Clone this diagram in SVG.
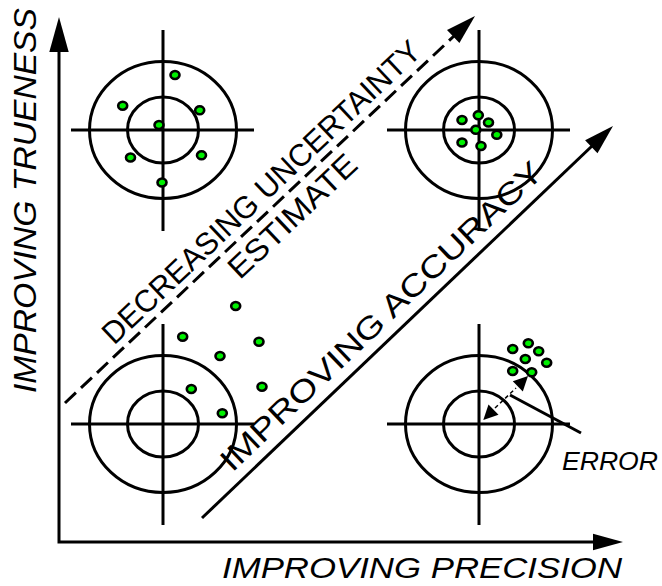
<svg xmlns="http://www.w3.org/2000/svg" width="662" height="586" viewBox="0 0 662 586">
<defs>
<style>
.ln{stroke:#000;stroke-width:3;fill:none}
.ring{stroke:#000;stroke-width:3;fill:none}
.dot{fill:#00f000;stroke:#000;stroke-width:2.6}
.head{fill:#000;stroke:none}
.t{font-family:"Liberation Sans",Arial,Helvetica,sans-serif;fill:#000}
.it{font-style:italic}
</style>
<g id="target">
<ellipse class="ring" cx="0" cy="0" rx="73.5" ry="68.5"/>
<ellipse class="ring" cx="0" cy="0" rx="35.5" ry="33"/>
<line class="ln" x1="-92" y1="0" x2="91" y2="0"/>
<line class="ln" x1="0" y1="-100" x2="0" y2="101"/>
</g>
<ellipse id="d" class="dot" cx="0" cy="0" rx="4.5" ry="4"/>
</defs>
<rect width="662" height="586" fill="#fff"/>

<g id="target-top-left"><use href="#target" x="163" y="130"/>
<use href="#d" x="175" y="75"/><use href="#d" x="122.7" y="105.7"/><use href="#d" x="199.7" y="110.3"/><use href="#d" x="159" y="125"/><use href="#d" x="130.5" y="157.5"/><use href="#d" x="201.5" y="155.3"/><use href="#d" x="162" y="182.5"/>
</g>
<g id="target-top-right"><use href="#target" x="479" y="130"/>
<use href="#d" x="462" y="120"/><use href="#d" x="478.3" y="115.3"/><use href="#d" x="488.5" y="122.5"/><use href="#d" x="475.8" y="129.8"/><use href="#d" x="496.8" y="134.8"/><use href="#d" x="462" y="142.5"/><use href="#d" x="481" y="146"/>
</g>
<g id="target-bottom-left"><use href="#target" x="163" y="424"/>
<use href="#d" x="235.7" y="306"/><use href="#d" x="182.7" y="336.7"/><use href="#d" x="259" y="341.7"/><use href="#d" x="220" y="356"/><use href="#d" x="191.3" y="389"/><use href="#d" x="262" y="386.7"/><use href="#d" x="222.3" y="413.2"/>
</g>
<g id="target-bottom-right"><use href="#target" x="479" y="424"/>
<use href="#d" x="512.7" y="349"/><use href="#d" x="528.3" y="343.3"/><use href="#d" x="538.7" y="351.3"/><use href="#d" x="525.3" y="359"/><use href="#d" x="546.7" y="362.7"/><use href="#d" x="512.7" y="371"/><use href="#d" x="531.7" y="372.3"/>
</g>

<g id="connectors">
<path class="ln" d="M59,50 V542 H595" stroke-linejoin="miter"/>
<polygon class="head" points="59,17 49.3,52 68.7,52"/>
<polygon class="head" points="623,542 593,533.7 593,550.3"/>
<line class="ln" x1="65" y1="403" x2="454" y2="36" stroke-dasharray="15 7"/>
<polygon class="head" points="475,16 447,30 459.4,43.1"/>
<line class="ln" x1="202" y1="518" x2="592" y2="146"/>
<polygon class="head" points="613,126 585.1,140.2 597.5,153.2"/>
<line x1="495" y1="408" x2="516" y2="388" stroke="#000" stroke-width="1.5" stroke-dasharray="4 3"/>
<polygon class="head" points="483.3,420 488.5,404.5 498.5,414.7"/>
<polygon class="head" points="528,376 522.8,391.5 512.8,381.3"/>
<line class="ln" x1="510" y1="395" x2="581" y2="433"/>
</g>

<g id="labels">
<text class="t it" x="222" y="578" font-size="30" textLength="400" lengthAdjust="spacingAndGlyphs">IMPROVING PRECISION</text>
<text class="t it" transform="translate(36,393) rotate(-90)" font-size="31" textLength="385" lengthAdjust="spacingAndGlyphs">IMPROVING TRUENESS</text>
<g transform="translate(274,205.5) rotate(-43.38)">
<text class="t" x="0" y="-8" font-size="31" text-anchor="middle" textLength="425" lengthAdjust="spacingAndGlyphs">DECREASING UNCERTAINTY</text>
<text class="t" x="6" y="31" font-size="31" text-anchor="middle" textLength="165" lengthAdjust="spacingAndGlyphs">ESTIMATE</text>
</g>
<text class="t" transform="translate(392,327.5) rotate(-43.64)" x="0" y="-5" font-size="31" text-anchor="middle" textLength="432" lengthAdjust="spacingAndGlyphs">IMPROVING ACCURACY</text>
<text class="t it" x="562" y="470" font-size="25" textLength="96" lengthAdjust="spacingAndGlyphs">ERROR</text>
</g>
</svg>
